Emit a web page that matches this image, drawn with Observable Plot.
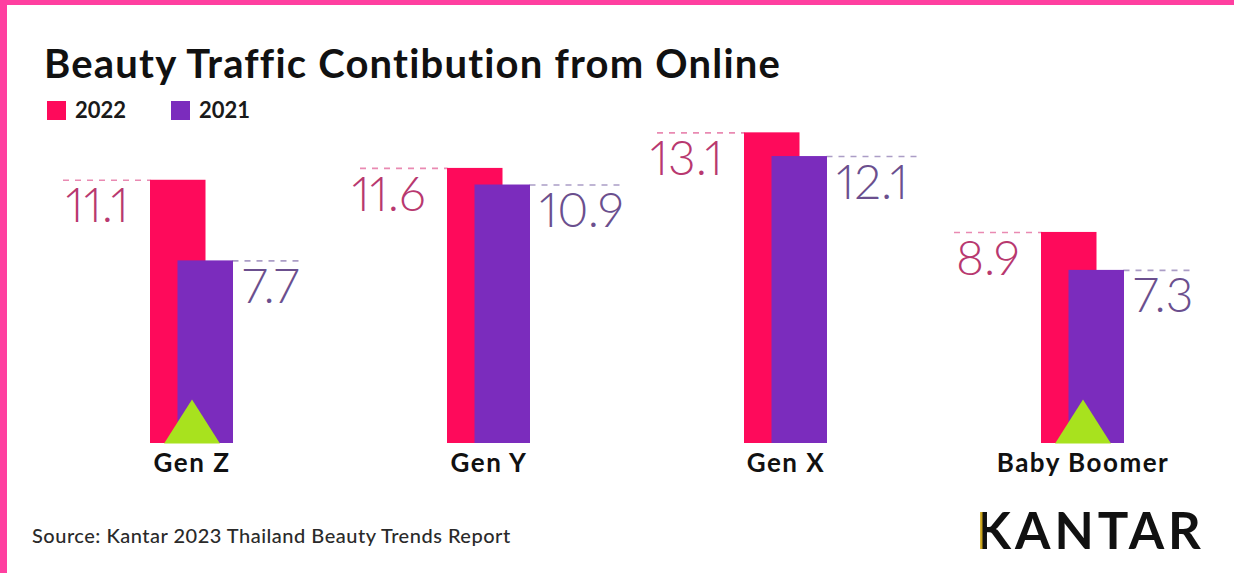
<!DOCTYPE html>
<html>
<head>
<meta charset="utf-8">
<script src="https://cdn.jsdelivr.net/npm/d3@7"></script>
<script src="https://cdn.jsdelivr.net/npm/@observablehq/plot@0.6"></script>
<style>
  html, body { margin: 0; padding: 0; background: #fff; }
  #page { position: relative; width: 1234px; height: 573px; overflow: hidden; background: #fff; font-family: Lato, "Open Sans", sans-serif; }
  .bar-top { position: absolute; left: 0; top: 0; width: 1234px; height: 5px; background: #ff3fa0; z-index: 5; }
  .bar-left { position: absolute; left: 0; top: 0; width: 7px; height: 573px; background: #ff3fa0; z-index: 5; }
  #title { position: absolute; left: 44px; top: 43px; font-size: 40px; font-weight: 700; color: #111; line-height: 40px; letter-spacing: 1.2px; white-space: nowrap; }
  #legend { position: absolute; left: 47px; top: 97px; display: flex; align-items: center; font-size: 22px; font-weight: 700; color: #1a1a1a; line-height: 26px; }
  #legend .sw { display: inline-block; width: 19px; height: 19px; margin-right: 9px; }
  #legend .item { display: flex; align-items: center; margin-right: 45px; }
  #chart { position: absolute; left: 0; top: 100px; }
  #chart g[aria-label="x-axis tick label"] text { letter-spacing: 1.5px; }
  #source { position: absolute; left: 32px; top: 522px; font-size: 20px; font-weight: 500; color: #2a2a2a; line-height: 26px; letter-spacing: 0.5px; white-space: nowrap; }
  #logo { position: absolute; left: 976px; top: 500px; font-size: 51px; font-weight: 700; color: #111; letter-spacing: 4px; line-height: 60px; }
  #logo .k { background: linear-gradient(to right, #d9b21c 0, #c9a21a 6px, #111 7px, #111 100%); -webkit-background-clip: text; background-clip: text; color: transparent; }
</style>
</head>
<body>
<div id="page">
  <div id="title">Beauty Traffic Contibution from Online</div>
  <div id="legend"></div>
  <div id="chart"></div>
  <div id="source">Source: Kantar 2023 Thailand Beauty Trends Report</div>
  <div id="logo"><span class="k">K</span>ANTAR</div>
  <div class="bar-top"></div>
  <div class="bar-left"></div>
</div>
<script>
// ---- data ----
const groups = ["Gen Z", "Gen Y", "Gen X", "Baby Boomer"];
const years = ["2022", "2021"];
const values2022 = [11.1, 11.6, 13.1, 8.9];
const values2021 = [7.7, 10.9, 12.1, 7.3];
const highlighted = [true, false, false, true];
const colors = { "2022": "#fe0a5b", "2021": "#7b2cbd" };
const labelColors = { "2022": "#b8386f", "2021": "#6b4f8e" };
const dashColors = { "2022": "#e98ab2", "2021": "#ab9dc6" };

// ---- legend ----
const legend = document.getElementById("legend");
years.forEach(y => {
  const it = document.createElement("div");
  it.className = "item";
  it.innerHTML = `<span class="sw" style="background:${colors[y]}"></span><span>${y}</span>`;
  legend.appendChild(it);
});

// ---- layout constants ----
const W = 1234, H = 390;
const step = 297, groupW = 82.5, barW = 55, offset = groupW - barW;
const mLeft = 150;
const rangeW = step * groups.length - step + groupW;
const mRight = W - mLeft - rangeW;

const rows = [];
groups.forEach((g, i) => {
  rows.push({ group: g, year: "2022", value: values2022[i] });
  rows.push({ group: g, year: "2021", value: values2021[i] });
});
const r22 = rows.filter(d => d.year === "2022");
const r21 = rows.filter(d => d.year === "2021");
const tri = groups.map((g, i) => ({ group: g, on: highlighted[i] })).filter(d => d.on);
const fmt = d => d.value.toFixed(1);

const triangle = {
  draw(context, size) {
    const r = Math.sqrt(size / Math.PI);
    context.moveTo(0, -2 * r);
    context.lineTo(1.27 * r, 0);
    context.lineTo(-1.27 * r, 0);
    context.closePath();
  }
};

const valueFont = { fontFamily: "Lato, Roboto, sans-serif", fontWeight: 300, fontSize: 48, fontVariant: "proportional-nums" };

const chart = Plot.plot({
  width: W,
  height: H,
  marginLeft: mLeft,
  marginRight: mRight,
  marginTop: 11,
  marginBottom: 47,
  style: { background: "transparent", overflow: "visible" },
  x: { domain: groups, paddingInner: 1 - groupW / step, paddingOuter: 0, align: 0 },
  y: { domain: [0, 14], axis: null },
  marks: [
    // dashed guides
    Plot.tickY(r22, { x: "group", y: "value", insetLeft: -87, insetRight: groupW, stroke: dashColors["2022"], strokeWidth: 1.6, strokeDasharray: "6,6" }),
    Plot.tickY(r21.filter(d => fmt(d).length <= 3), { x: "group", y: "value", insetLeft: groupW, insetRight: -68, stroke: dashColors["2021"], strokeWidth: 1.6, strokeDasharray: "6,6" }),
    Plot.tickY(r21.filter(d => fmt(d).length > 3), { x: "group", y: "value", insetLeft: groupW, insetRight: -92, stroke: dashColors["2021"], strokeWidth: 1.6, strokeDasharray: "6,6" }),
    // bars
    Plot.barY(r22, { x: "group", y: "value", insetRight: offset, fill: colors["2022"] }),
    Plot.barY(r21, { x: "group", y: "value", insetLeft: offset, fill: colors["2021"] }),
    // triangles
    Plot.dot(tri, { x: "group", y: () => 0, r: 22, symbol: triangle, fill: "#a8e21e", stroke: null }),
    // value labels
    Plot.text(r22, { x: "group", y: "value", text: fmt, textAnchor: "end", lineAnchor: "top", dx: -(groupW / 2) - 22, dy: 8, fill: labelColors["2022"], ...valueFont }),
    Plot.text(r21, { x: "group", y: "value", text: fmt, textAnchor: "start", lineAnchor: "top", dx: groupW / 2 + 9, dy: 8, fill: labelColors["2021"], ...valueFont }),
    // category axis
    Plot.axisX({ tickSize: 0, tickPadding: 10, label: null, fontSize: 26, fontWeight: 700, fill: "#111", fontFamily: "Lato, sans-serif" })
  ]
});
document.getElementById("chart").appendChild(chart);
</script>
</body>
</html>
